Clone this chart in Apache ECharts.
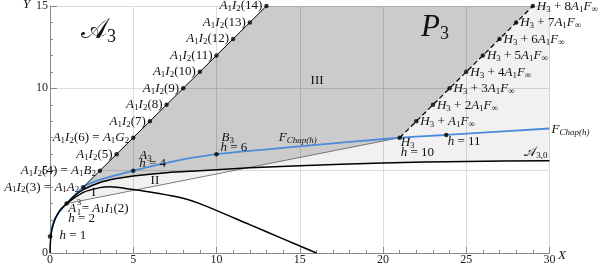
<!DOCTYPE html>
<html><head><meta charset="utf-8">
<script src="https://cdn.jsdelivr.net/npm/echarts@6/dist/echarts.min.js"></script>
<style>html,body{margin:0;padding:0;background:#fff}#c{width:600px;height:266px}</style>
</head><body><div id="c"></div>
<script>
// ---- data ----
const xTickLabels = ['0','5','10','15','20','25','30'];
const yTickLabels = ['0','5','10','15'];
const curveA30 = [[0,0],[0.02,0.6],[0.1,1.35],[0.3,2.04],[0.6,2.6],[1,3],[1.5,3.5],[2,3.85],[3,4.28],[4,4.52],[5,4.68],[7,4.88],[9,5.0],[10,5.06],[12,5.17],[15,5.3],[20,5.47],[25,5.56],[30,5.6]];
const curveFChap = [[0,1],[0.3,2.1],[1,3],[2,4],[3,4.45],[5,5],[7.5,5.58],[10,6],[15,6.47],[21,7],[23.8,7.17],[30,7.56]];
const curveParab = [[1,3],[2,3.68],[3,3.97],[3.6,4.02],[5,3.85],[6,3.7],[7,3.53],[8,3.33],[9,3.0],[12,1.72],[14,0.86],[16,0]];
const lineLower = [[1,3],[21,7]];
const lineI2 = [[2,4],[13,15]];
const lineDashed = [[21,7],[29,15]];
const pointsI2 = [[2,4],[3,5],[4,6],[5,7],[6,8],[7,9],[8,10],[9,11],[10,12],[11,13],[12,14],[13,15]];
const indexI2 = ['3','4','5','6','7','8','9','10','11','12','13','14'];
const pointsH3 = [[22,8],[23,9],[24,10],[25,11],[26,12],[27,13],[28,14],[29,15]];
const multH3 = ['','2','3','4','5','6','7','8'];
const pointsH = [[0,1],[1,3],[5,5],[10,6],[21,7],[23.8,7.17]];
const hValues = ['1','2','4','6','10','11'];
const crossPt = [11.9,5.18];

// ---- regions (data space) ----
const polyLight = [[1,3],crossPt].concat(curveA30.filter(p=>p[0]>=12)).concat([[30,15],[13,15],[2,4]]);
const polyDark = curveA30.filter(p=>p[0]>=1 && p[0]<=10).concat([crossPt,[21,7],[29,15],[13,15],[2,4]]);

const F = '"Liberation Serif","Times New Roman",serif';
const AX = '#8a8a8a';
const rich = {
  i:{fontFamily:F,fontStyle:'italic',fontSize:13,fill:'#111'},
  r:{fontFamily:F,fontSize:13,fill:'#111'},
  s:{fontFamily:F,fontSize:9,fill:'#111',padding:[6,0,0,0]},
  si:{fontFamily:F,fontStyle:'italic',fontSize:9,fill:'#111',padding:[6,0,0,0]},
  sup:{fontFamily:F,fontSize:9,fill:'#111',padding:[0,0,6,0]},
  cal:{fontFamily:'"DejaVu Serif","DejaVu Sans",'+F,fontSize:13,fill:'#111'},
  bA:{fontFamily:'"DejaVu Serif","DejaVu Sans",'+F,fontSize:28,fill:'#111'},
  bP:{fontFamily:F,fontStyle:'italic',fontSize:31,fill:'#111'},
  bs:{fontFamily:F,fontSize:18,fill:'#111',padding:[12,0,0,0]}
};

function polySeries(points, fill){
  return {type:'custom', silent:true, z:1,
    renderItem:(p,api)=>({type:'polygon', shape:{points:points.map(q=>api.coord(q))}, style:{fill:fill}}),
    data:[[0,0]]};
}
function lineSeries(data, color, width, type, smooth){
  return {type:'line', data:data, showSymbol:false, silent:true, smooth:smooth||false, z:3,
    lineStyle:{color:color,width:width,type:type||'solid'}};
}

const chart = echarts.init(document.getElementById('c'), null, {renderer:'canvas'});
chart.setOption({
  animation:false,
  grid:{left:50, right:50.5, top:4.7, bottom:11.5},
  xAxis:{type:'value', min:0, max:30, interval:5,
    axisLine:{show:true, onZero:true, lineStyle:{color:AX,width:1}},
    axisTick:{show:true, inside:true, length:6, lineStyle:{color:AX}},
    minorTick:{show:true, splitNumber:5, length:3, lineStyle:{color:AX}},
    splitLine:{show:true, lineStyle:{color:'#dcdcdc',width:1}},
    axisLabel:{margin:1, fontFamily:F, fontSize:12, color:'#222', formatter:(v)=>xTickLabels[Math.round(v/5)]}},
  yAxis:{type:'value', min:0, max:15, interval:5,
    axisLine:{show:true, onZero:true, lineStyle:{color:AX,width:1}},
    axisTick:{show:true, inside:true, length:7, lineStyle:{color:AX}},
    minorTick:{show:true, splitNumber:5, length:3, lineStyle:{color:AX}},
    splitLine:{show:true, lineStyle:{color:'#dcdcdc',width:1}},
    axisLabel:{margin:2, fontFamily:F, fontSize:12, color:'#222', formatter:(v)=>yTickLabels[Math.round(v/5)]}},
  series:[
    polySeries(polyLight,'rgba(0,0,0,0.055)'),
    polySeries(polyDark,'rgba(0,0,0,0.16)'),
    lineSeries(lineLower,'#5a5a5a',0.8),
    lineSeries(curveParab,'#000',1.5,'solid',0.3),
    lineSeries(curveFChap,'#4b8bd9',1.8,'solid',0.3),
    lineSeries(curveA30,'#000',1.5,'solid',0.3),
    lineSeries(lineI2,'#000',1),
    lineSeries(lineDashed,'#000',1.2,[5,3]),
    {type:'scatter', silent:true, z:5, symbolSize:4.5, itemStyle:{color:'#000'},
      data:pointsI2.concat(pointsH3).concat(pointsH)}
  ]
});

function px(p){ return chart.convertToPixel({gridIndex:0}, p); }
const g = [];
function txt(x,y,text,align){ g.push({type:'text', x:x, y:y, z:100, silent:true,
  style:{text:text, rich:rich, align:align||'left', verticalAlign:'middle', fill:'#111', fontFamily:F, fontSize:13}}); }

const I2 = '{i|A}{s|1}{i|I}{s|2}';
pointsI2.forEach((p,k)=>{
  const q = px(p);
  let t = I2 + '{r|(' + indexI2[k] + ')}';
  if (indexI2[k]==='3') t += '{r| = }{i|A}{s|1}{i|A}{s|2}';
  if (indexI2[k]==='4') t += '{r| = }{i|A}{s|1}{i|B}{s|2}';
  if (indexI2[k]==='6') t += '{r| = }{i|A}{s|1}{i|G}{s|2}';
  txt(q[0]-4, q[1], t, 'right');
});
pointsH3.forEach((p,k)=>{
  const q = px(p);
  txt(q[0]+4, q[1]+0.5, '{i|H}{s|3}{r| + ' + multH3[k] + '}{i|A}{s|1}{i|F}{s|∞}', 'left');
});
let q;
q = px(pointsH[0]); txt(q[0]+9.5, q[1]-0.5, '{i|h}{r| = '+hValues[0]+'}');
q = px(pointsH[1]);
txt(q[0]+1.5, q[1]+4.5, '{i|A}');
txt(q[0]+10, q[1]+2, '{sup|3}');
txt(q[0]+10, q[1]+6, '{s|1}');
txt(q[0]+15, q[1]+4.5, '{r|= }{i|A}{s|1}{i|I}{s|1}{r|(2)}');
txt(q[0]+1.5, q[1]+14.5, '{i|h}{r| = '+hValues[1]+'}');
q = px(pointsH[2]); txt(q[0]+6, q[1]-15, '{i|A}{s|3}'); txt(q[0]+6, q[1]-7, '{i|h}{r| = '+hValues[2]+'}');
q = px(pointsH[3]); txt(q[0]+5, q[1]-17, '{i|B}{s|3}'); txt(q[0]+4, q[1]-7, '{i|h}{r| = '+hValues[3]+'}');
q = px(pointsH[4]); txt(q[0]+1, q[1]+5, '{i|H}{s|3}'); txt(q[0]+1, q[1]+14.5, '{i|h}{r| = '+hValues[4]+'}');
q = px(pointsH[5]); txt(q[0]+1.5, q[1]+7, '{i|h}{r| = '+hValues[5]+'}');
q = px([15,6.47]); txt(q[0]-21, q[1]-8.5, '{i|F}{si|Chap(h)}');
q = px([30,7.56]); txt(q[0]+2, q[1]+1.5, '{i|F}{si|Chap(h)}');
q = px([30,5.6]); txt(q[0]-2, q[1]-8, '{cal|𝒜}{s|3,0}', 'right');
q = px([2.63,3.67]); txt(q[0], q[1], '{r|I}', 'center');
q = px([6.3,4.38]); txt(q[0], q[1], '{r|II}', 'center');
q = px([16.04,10.5]); txt(q[0], q[1], '{r|III}', 'center');
txt(81, 31, '{bA|𝒜}{bs|3}');
txt(421, 28, '{bP|P}{bs|3}');
txt(26.5, 5, '{i|Y}', 'center');
txt(562, 256, '{i|X}', 'center');
chart.setOption({graphic:g});
</script></body></html>
